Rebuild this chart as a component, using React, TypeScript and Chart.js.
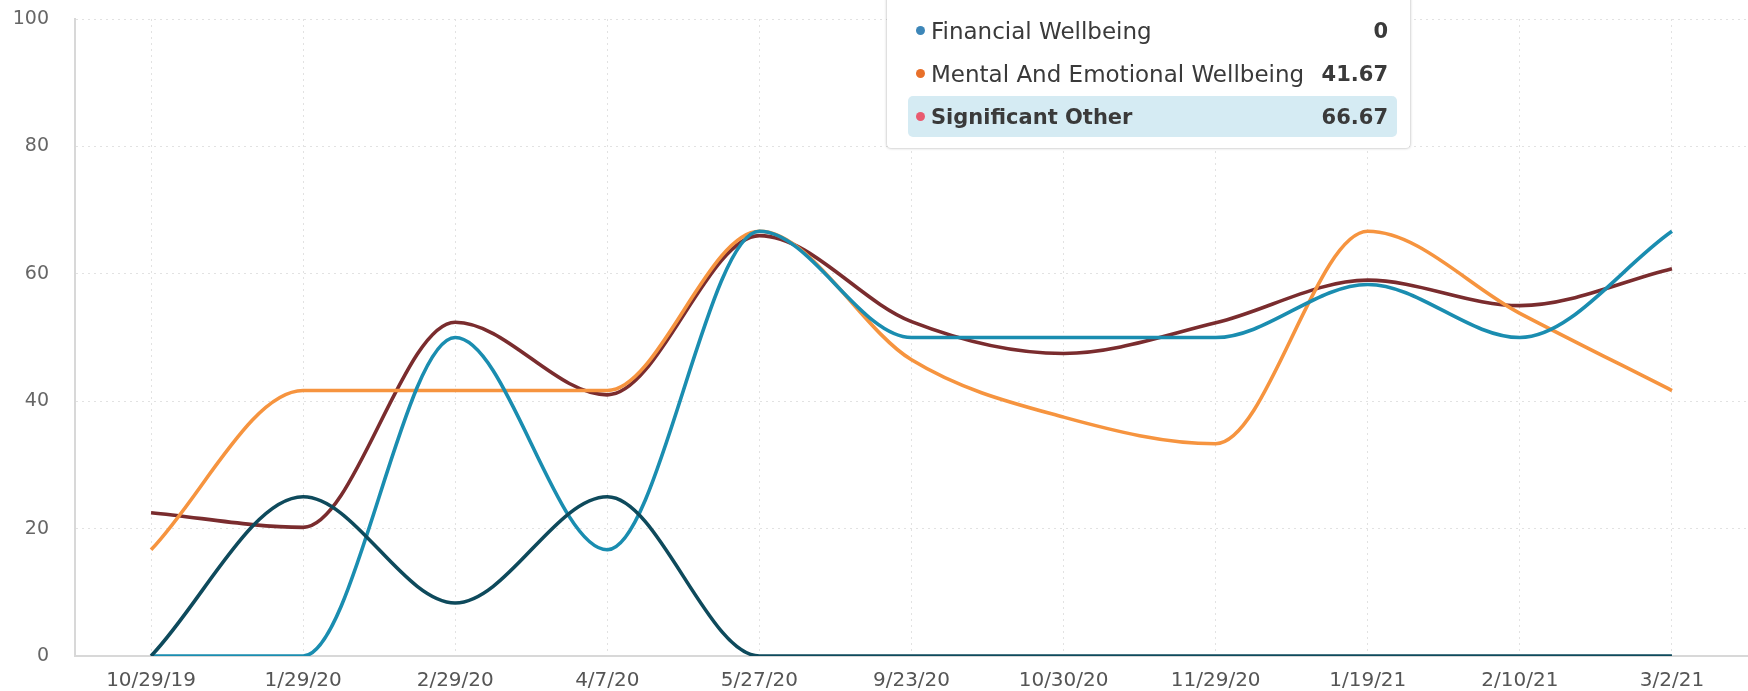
import React, { useEffect, useRef } from "react";
import Chart from "chart.js/auto";

const labels = ["10/29/19", "1/29/20", "2/29/20", "4/7/20", "5/27/20", "9/23/20", "10/30/20", "11/29/20", "1/19/21", "2/10/21", "3/2/21"];
const darkTeal = [0, 25, 8.33, 25, 0, 0, 0, 0, 0, 0, 0];
const teal = [0, 0, 50, 16.67, 66.67, 50, 50, 50, 58.33, 50, 66.67];
const orange = [16.67, 41.67, 41.67, 41.67, 66.67, 46.5, 37.5, 33.33, 66.67, 53.8, 41.67];
const maroon = [22.5, 20.2, 52.4, 41, 66, 52.5, 47.5, 52.3, 59, 55, 60.8];
const yTicks = [0, 20, 40, 60, 80, 100];

const tipRows = [
  { name: "Financial Wellbeing", value: "0", dot: "#3d86b8", active: false },
  { name: "Mental And Emotional Wellbeing", value: "41.67", dot: "#e8702a", active: false },
  { name: "Significant Other", value: "66.67", dot: "#e95a6f", active: true },
];

export default function App() {
  const ref = useRef<HTMLCanvasElement>(null);
  useEffect(() => {
    document.body.style.margin = "0";
    const mk = (data: number[], color: string) => ({
      data,
      borderColor: color,
      backgroundColor: color,
      borderWidth: 3.6,
      pointRadius: 0,
      fill: false,
      cubicInterpolationMode: "monotone" as const,
    });
    const chart = new Chart(ref.current!, {
      type: "line",
      data: {
        labels,
        datasets: [
          mk(darkTeal, "#0e4a5c"),
          mk(teal, "#1a8db0"),
          mk(orange, "#f6943f"),
          mk(maroon, "#7a2c2e"),
        ],
      },
      options: {
        animation: false,
        responsive: false,
        layout: { padding: { top: 19, right: 0, left: 0, bottom: 0 } },
        plugins: { legend: { display: false }, tooltip: { enabled: false } },
        scales: {
          x: {
            offset: true,
            grid: { color: "#e2e2e2", lineWidth: 1, drawTicks: false, offset: false },
            border: { display: true, color: "#d8d8d8", width: 2, dash: [2, 4] },
            ticks: { color: "#555", font: { family: "DejaVu Sans", size: 20 }, padding: 13, maxRotation: 0, autoSkip: false },
            afterFit: (s: any) => { s.height = 35; s.paddingLeft = 0; s.paddingRight = 0; },
          },
          y: {
            min: 0,
            max: 100,
            afterBuildTicks: (s: any) => { s.ticks = yTicks.map((v) => ({ value: v })); },
            grid: { color: "#e2e2e2", lineWidth: 1, drawTicks: false },
            border: { display: true, color: "#d8d8d8", width: 2, dash: [2, 4] },
            ticks: { color: "#666", font: { family: "DejaVu Sans", size: 19 }, padding: 26 },
            afterFit: (s: any) => { s.width = 75; s.paddingTop = 0; s.paddingBottom = 0; },
          },
        },
      },
    });
    return () => chart.destroy();
  }, []);

  return (
    <div style={{ position: "relative", width: 1748, height: 691, overflow: "hidden", background: "#fff" }}>
      <canvas ref={ref} width={1748} height={691} style={{ display: "block" }} />
      <div
        style={{
          position: "absolute",
          left: 887,
          top: -30,
          width: 523,
          height: 178,
          background: "#fff",
          borderRadius: 4,
          boxShadow: "0 0 3px rgba(0,0,0,0.35)",
          fontFamily: "DejaVu Sans",
        }}
      >
        {tipRows.map((r, i) => (
          <div
            key={r.name}
            style={{
              position: "absolute",
              left: 21,
              right: 13,
              top: 40 + i * 43,
              height: 41,
              borderRadius: 5,
              background: r.active ? "#d5ebf3" : "transparent",
              display: "flex",
              alignItems: "center",
              fontSize: r.active ? 21 : 23,
              color: "#3a3a3a",
              fontWeight: r.active ? 700 : 400,
              whiteSpace: "nowrap",
            }}
          >
            <span style={{ width: 9, height: 9, borderRadius: 5, background: r.dot, marginLeft: 8, marginRight: 6, display: "inline-block", flex: "none" }} />
            <span style={{ flex: 1 }}>{r.name}</span>
            <span style={{ fontWeight: 700, fontSize: 21, marginRight: 9 }}>{r.value}</span>
          </div>
        ))}
      </div>
    </div>
  );
}
